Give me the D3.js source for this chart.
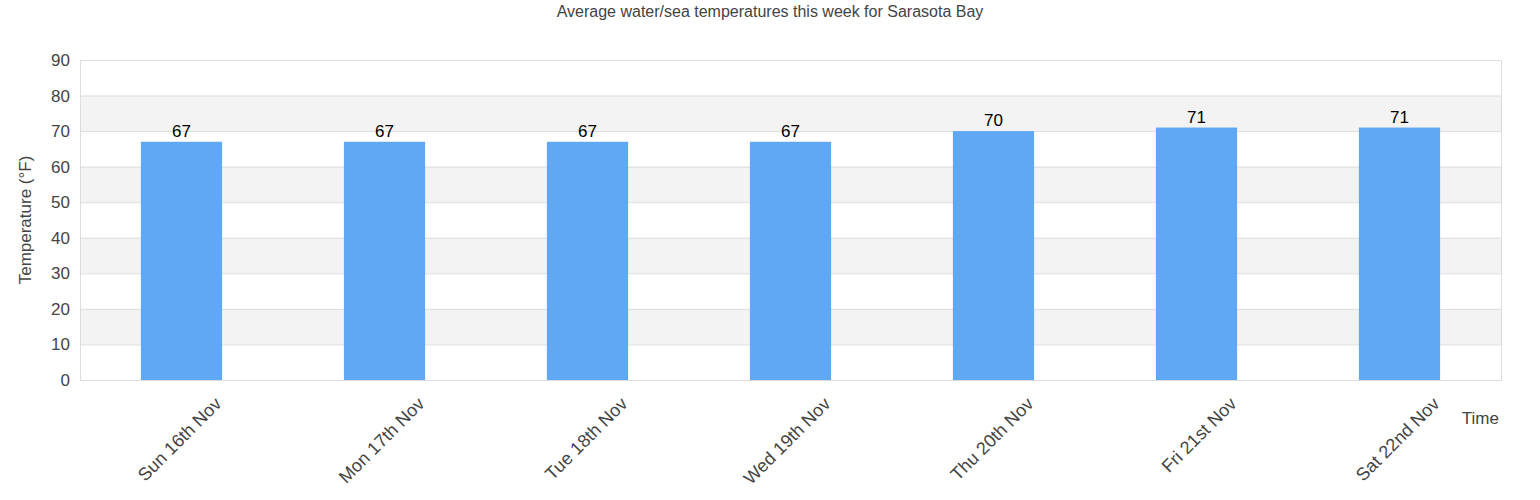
<!DOCTYPE html>
<html>
<head>
<meta charset="utf-8">
<script src="https://cdn.jsdelivr.net/npm/d3@7"></script>
<style>
  body { margin: 0; background: #fff; }
  svg { font-family: "Liberation Sans", Arial, sans-serif; }
</style>
</head>
<body>
<div id="chart"></div>
<script>
const days = ['Sun 16th Nov', 'Mon 17th Nov', 'Tue 18th Nov', 'Wed 19th Nov', 'Thu 20th Nov', 'Fri 21st Nov', 'Sat 22nd Nov'];
const temps = [67, 67, 67, 67, 70, 71, 71];
const yTicks = [0, 10, 20, 30, 40, 50, 60, 70, 80, 90];

const W = 1540, H = 500;
const margin = { top: 60, right: 39, bottom: 120, left: 80 };
const width = W - margin.left - margin.right;
const height = H - margin.top - margin.bottom;

const svg = d3.select('#chart')
  .append('svg')
  .attr('width', W)
  .attr('height', H)
  .append('g')
  .attr('transform', `translate(${margin.left},${margin.top})`);

const x = d3.scaleBand()
  .domain(days)
  .range([0, width])
  .paddingInner(0.6)
  .paddingOuter(0.3);

const y = d3.scaleLinear()
  .domain([0, 90])
  .range([height, 0]);

// alternating bands
svg.selectAll('.band')
  .data(yTicks.slice(0, -1).filter((d) => d % 20 === 10))
  .enter()
  .append('rect')
  .attr('x', 0)
  .attr('width', width)
  .attr('y', (d) => y(d + 10))
  .attr('height', (d) => y(d) - y(d + 10))
  .style('fill', '#f3f3f3');

// grid lines
svg.selectAll('.grid')
  .data(yTicks)
  .enter()
  .append('line')
  .attr('x1', 0)
  .attr('x2', width)
  .attr('y1', (d) => y(d) + 0.5)
  .attr('y2', (d) => y(d) + 0.5)
  .style('stroke', '#dddddd');

// plot border
svg.append('rect')
  .attr('x', 0.5)
  .attr('y', 0.5)
  .attr('width', width)
  .attr('height', height)
  .style('fill', 'none')
  .style('stroke', '#dddddd');

// Y axis
const yAxis = svg.append('g')
  .call(d3.axisLeft(y).tickValues(yTicks).tickSize(0).tickPadding(10));
yAxis.select('.domain').remove();
yAxis.selectAll('text')
  .style('font-size', '17px')
  .style('fill', '#444')
  .style('font-family', '"Liberation Sans", Arial, sans-serif');

// X axis
const xAxis = svg.append('g')
  .attr('transform', `translate(0,${height})`)
  .call(d3.axisBottom(x).tickSize(0));
xAxis.select('.domain').remove();
xAxis.selectAll('text')
  .style('font-size', '18px')
  .style('fill', '#444')
  .style('font-family', '"Liberation Sans", Arial, sans-serif')
  .style('text-anchor', 'end')
  .attr('dy', null)
  .attr('y', 0)
  .attr('transform', 'translate(41,25)rotate(-45)');

// bars
svg.selectAll('.bar')
  .data(temps)
  .enter()
  .append('rect')
  .attr('x', (d, i) => x(days[i]))
  .attr('width', x.bandwidth())
  .attr('y', (d) => y(d))
  .attr('height', (d) => height - y(d))
  .style('fill', '#60a8f4');

// value labels
svg.selectAll('.val')
  .data(temps)
  .enter()
  .append('text')
  .attr('x', (d, i) => x(days[i]) + x.bandwidth() / 2)
  .attr('y', (d) => y(d) - 5)
  .attr('text-anchor', 'middle')
  .style('font-size', '17px')
  .style('fill', '#000')
  .text((d) => d);

// axis titles
svg.append('text')
  .attr('transform', `translate(${-49},${height / 2})rotate(-90)`)
  .attr('text-anchor', 'middle')
  .style('font-size', '17px')
  .style('fill', '#444')
  .text('Temperature (°F)');

svg.append('text')
  .attr('x', width - 2)
  .attr('y', height + 44)
  .attr('text-anchor', 'end')
  .style('font-size', '17px')
  .style('fill', '#444')
  .text('Time');

// title
d3.select('svg').append('text')
  .attr('x', W / 2)
  .attr('y', 17)
  .attr('text-anchor', 'middle')
  .style('font-size', '16px')
  .style('fill', '#444')
  .text('Average water/sea temperatures this week for Sarasota Bay');
</script>
</body>
</html>
